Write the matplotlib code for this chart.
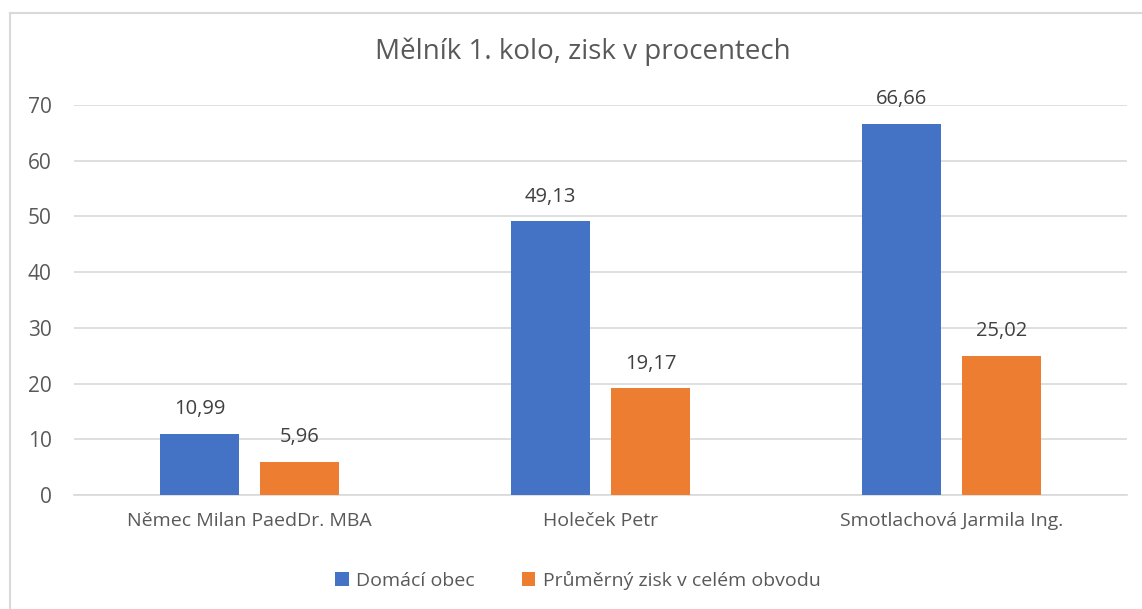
import matplotlib.pyplot as plt
import numpy as np
from matplotlib.lines import Line2D

plt.rcParams['font.family'] = ['Open Sans', 'DejaVu Sans']

kandidati = ["Němec Milan PaedDr. MBA", "Holeček Petr", "Smotlachová Jarmila Ing."]
domaci = [10.99, 49.13, 66.66]
prumer = [5.96, 19.17, 25.02]
serie = ["Domácí obec", "Průměrný zisk v celém obvodu"]

txt = "#595959"
W, H = 1142, 609
fig = plt.figure(figsize=(11.42, 6.09), dpi=100)
ax = fig.add_axes([74 / W, 1 - 495 / H, 1053 / W, 390 / H])

x = np.arange(len(kandidati))
w = 0.225
b1 = ax.bar(x - 0.1425, domaci, w, color="#4472C4", label=serie[0], zorder=3)
b2 = ax.bar(x + 0.1425, prumer, w, color="#ED7D31", label=serie[1], zorder=3)
for bars, vals in ((b1, domaci), (b2, prumer)):
    for r, v in zip(bars, vals):
        ax.text(r.get_x() + r.get_width() / 2, v + 2.6, f"{v:.2f}".replace(".", ","),
                ha="center", va="bottom", fontsize=14.5, color="#404040")

ax.set_xlim(-0.5, 2.5)
ax.set_ylim(0, 70)
ax.set_yticks(range(0, 71, 10))
ax.set_xticks(x)
ax.set_xticklabels(kandidati)
ax.tick_params(axis="x", length=0, labelsize=14, colors=txt, pad=12)
ax.tick_params(axis="y", length=0, labelsize=15, colors=txt, pad=16)
ax.grid(axis="y", color="#D9D9D9", lw=1.2, zorder=0)
for s in ["top", "right", "left"]:
    ax.spines[s].set_visible(False)
ax.spines["bottom"].set_color("#D9D9D9")
ax.spines["bottom"].set_linewidth(1.2)

fig.text(583 / W, 1 - 52 / H, "Mělník 1. kolo, zisk v procentech", ha="center", va="center",
         fontsize=20, color=txt)
fig.legend(handles=[b1, b2], labels=serie, loc="center", bbox_to_anchor=(578 / W, 1 - 580 / H),
           ncol=2, frameon=False, fontsize=14, labelcolor=txt, handlelength=0.7,
           handleheight=0.7, columnspacing=2.4, handletextpad=0.4)
# okraj grafu (jen levá a horní hrana je vidět)
fig.add_artist(Line2D([9.5 / W, 9.5 / W], [0, 1 - 12.5 / H], transform=fig.transFigure,
                      color="#D9D9D9", lw=1.5))
fig.add_artist(Line2D([9.5 / W, 1], [1 - 12.5 / H, 1 - 12.5 / H], transform=fig.transFigure,
                      color="#D9D9D9", lw=1.5))
fig.savefig("out.png", dpi=100)
